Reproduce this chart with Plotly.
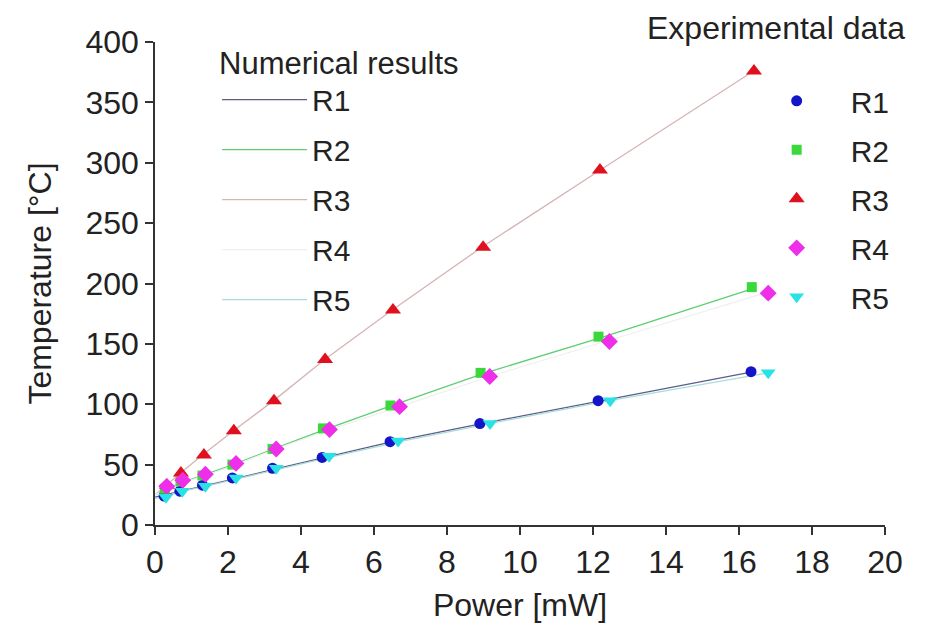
import plotly.graph_objects as go

# ---------------- data ----------------
# Experimental data (power in mW, temperature in °C)
P_R1 = [0.25, 0.68, 1.30, 2.12, 3.22, 4.58, 6.44, 8.90, 12.14, 16.33]
T_R1 = [24, 28, 33, 39, 47, 56, 69, 84, 103, 127]
P_R2 = [0.27, 0.70, 1.30, 2.12, 3.22, 4.60, 6.45, 8.92, 12.15, 16.35]
T_R2 = [30, 36, 41, 50, 63, 80, 99, 126, 156, 197]
P_R3 = [0.33, 0.71, 1.34, 2.16, 3.26, 4.66, 6.52, 8.99, 12.19, 16.41]
T_R3 = [33, 43, 58, 78, 103, 137, 178, 230, 294, 376]
P_R4 = [0.32, 0.76, 1.38, 2.22, 3.32, 4.78, 6.70, 9.17, 12.45, 16.80]
T_R4 = [32, 37, 42, 51, 63, 79, 98, 123, 152, 192]
P_R5 = [0.30, 0.75, 1.38, 2.22, 3.32, 4.77, 6.66, 9.18, 12.47, 16.80]
T_R5 = [23, 28, 32, 39, 47, 57, 69.5, 84, 103, 126]

# Numerical results
NP_A = [0, 0.3, 0.7, 1.3, 2.15, 3.25, 4.65, 6.5, 8.95, 12.2, 16.4]
NP_B = [0, 0.3, 0.75, 1.38, 2.22, 3.32, 4.78, 6.7, 9.17, 12.45, 16.8]
N_R1 = [23, 25, 28, 32, 38, 46, 56, 69, 84, 103, 127]
N_R2 = [25, 29, 35, 41, 50, 63, 79, 99, 125, 155, 196]
N_R3 = [25, 33, 43, 58, 78, 103, 137, 178, 230, 294, 376]
N_R4 = [25, 29, 35, 41, 50, 63, 79, 98, 123, 153, 193]
N_R5 = [22, 24, 28, 32, 38, 46, 56, 69, 84, 103, 126]

NAMES = ["R1", "R2", "R3", "R4", "R5"]
FONT = "Liberation Sans, Arial, sans-serif"

fig = go.Figure()

num_x = [NP_A, NP_A, NP_A, NP_B, NP_B]
num_y = [N_R1, N_R2, N_R3, N_R4, N_R5]
num_col = ["#5c5c8c", "#5ccf70", "#d6b4b4", "#f0f0f0", "#a9dcd6"]
for i, n in enumerate(NAMES):
    fig.add_trace(go.Scatter(
        x=num_x[i], y=num_y[i], mode="lines", name=n,
        line=dict(color=num_col[i], width=1.3),
        legend="legend", legendgroup="n" + n))

exp_x = [P_R1, P_R2, P_R3, P_R4, P_R5]
exp_y = [T_R1, T_R2, T_R3, T_R4, T_R5]
exp_col = ["#1414c8", "#3ad83a", "#e0101e", "#ee2ee8", "#2ae2e6"]
exp_sym = ["circle", "square", "triangle-up", "diamond", "triangle-down"]
exp_size = [11, 10, 14, 13, 13]
for i, n in enumerate(NAMES):
    fig.add_trace(go.Scatter(
        x=exp_x[i], y=exp_y[i], mode="markers", name=n,
        marker=dict(color=exp_col[i], symbol=exp_sym[i], size=exp_size[i],
                    line=dict(width=0)),
        legend="legend2", legendgroup="e" + n))

fig.update_layout(
    width=937, height=635,
    margin=dict(l=155, r=52, t=42, b=110),
    paper_bgcolor="white", plot_bgcolor="white",
    font=dict(family=FONT, size=31, color="#222222"),
    showlegend=True,
    legend=dict(
        x=0.085, y=1.018, xanchor="left", yanchor="top",
        bgcolor="rgba(0,0,0,0)", itemwidth=85,
        title=dict(text="Numerical results", font=dict(size=31)),
        font=dict(size=30), tracegroupgap=8, itemclick=False),
    legend2=dict(
        x=0.805, y=0.932, xanchor="left", yanchor="top",
        bgcolor="rgba(0,0,0,0)", itemwidth=98,
        font=dict(size=30), tracegroupgap=7, itemclick=False),
    annotations=[dict(text="Experimental data", x=0.851, y=1.029,
                      xref="paper", yref="paper", showarrow=False,
                      xanchor="center", yanchor="middle",
                      font=dict(size=32))],
)

axis_common = dict(
    showgrid=False, zeroline=False, showline=True, linecolor="#333333",
    linewidth=1.5, ticks="outside", ticklen=8, tickwidth=1.5,
    tickcolor="#333333", tickfont=dict(size=32), mirror=False,
)
fig.update_xaxes(range=[0, 20], dtick=2, tick0=0,
                 title=dict(text="Power [mW]", font=dict(size=32), standoff=14),
                 **axis_common)
fig.update_yaxes(range=[0, 400], dtick=50, tick0=0,
                 title=dict(text="Temperature [°C]", font=dict(size=32), standoff=24),
                 **axis_common)

fig.write_html("out.html")
